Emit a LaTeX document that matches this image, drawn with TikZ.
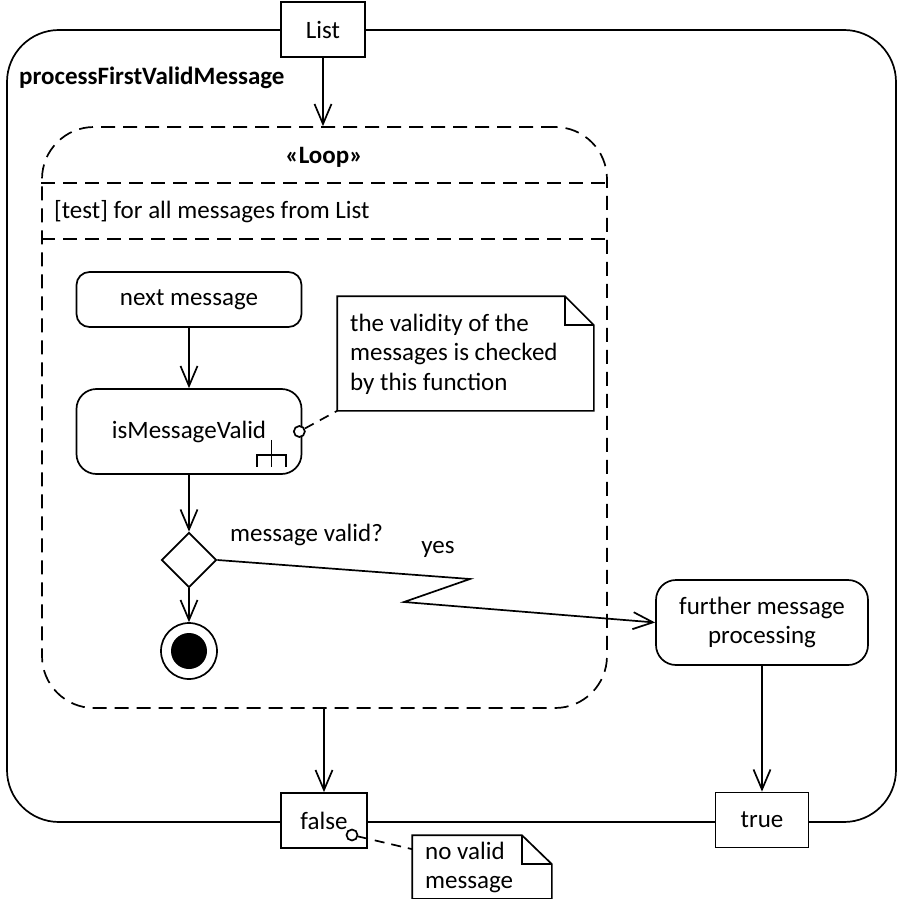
\documentclass[tikz,border=0pt]{standalone}
\usepackage{fontspec}
\setmainfont{Carlito}
\usetikzlibrary{arrows.meta,shapes.geometric,calc}
\newcommand\dfont{\fontsize{25}{29.5}\selectfont}
\begin{document}
\begin{tikzpicture}[x=1pt,y=-1pt,
  line width=1.7pt,
  every node/.style={font=\dfont},
  flow/.style={-{Straight Barb[length=20pt,width=17pt,line width=1.7pt]}},
  pinbox/.style={draw,fill=white,minimum height=55pt,inner sep=0pt},
  action/.style={draw,fill=white,rounded corners=#1,inner sep=0pt},
  loopdash/.style={dash pattern=on 14pt off 8pt},
  notedash/.style={dash pattern=on 10pt off 7pt},
  pinball/.style={circle,draw,fill=white,inner sep=0pt,minimum size=11pt},
  frame/.style={inner sep=0pt}
]
\useasboundingbox (0,0) rectangle (900,899);

% activity frame
\node[draw,rounded corners=52pt,minimum width=889pt,minimum height=792pt] (act) at (451.5,426) {};
\node[font=\dfont\bfseries,anchor=west] (title) at (15,78) {processFirstValidMessage};

% input parameter
\node[pinbox,minimum width=84pt] (list) at (323,29.5) {List};

% loop region
\node[draw,loopdash,rounded corners=52pt,minimum width=565pt,minimum height=581pt] (loop) at (324.5,417.5) {};
\coordinate (sep1) at (0,183);
\coordinate (sep2) at (0,239);
\draw[loopdash] (loop.west |- sep1) -- (loop.east |- sep1);
\draw[loopdash] (loop.west |- sep2) -- (loop.east |- sep2);
\node[font=\dfont\bfseries] (kind) at (324,157) {«Loop»};
\node[anchor=west] (test) at (50,212) {[test] for all messages from List};

% actions
\node[action=13pt,minimum width=225pt,minimum height=55pt] (next) at (189,299.5) {next message};
\node[action=20pt,minimum width=225pt,minimum height=85pt] (valid) at (189,431.5) {isMessageValid};
\draw ($(valid.south east)+(-31,-35)$) -- ++(0,27)
      ($(valid.south east)+(-45.5,-8)$) -- ++(0,-12) -- ++(29,0) -- ++(0,12);
\node[pinball] (cp1) at ($(valid.east)+(-3,0)$) {};

% comment on isMessageValid
\node[frame,minimum width=255pt,minimum height=113pt] (note1) at (465.5,353.5) {};
\draw[fill=white] (note1.north west) -- ($(note1.north east)+(-29,0)$) -- ($(note1.north east)+(0,29)$)
  -- (note1.south east) -- (note1.south west) -- cycle;
\draw ($(note1.north east)+(-29,0)$) -- ($(note1.north east)+(-29,29)$) -- ($(note1.north east)+(0,29)$);
\node[anchor=west,align=left] (note1text) at (346,354) {the validity of the\\messages is checked\\by this function};
\draw[notedash] (cp1) -- (note1.south west);

% decision and final node
\node[diamond,draw,minimum size=55pt,inner sep=0pt] (dec) at (189,560) {};
\node[anchor=west] (guard) at (226,535) {message valid?};
\node (yes) at (438,549) {yes};
\node[circle,draw,minimum size=56pt,inner sep=0pt] (final) at (189,651) {};
\node[circle,fill,minimum size=36pt,inner sep=0pt] (finaldot) at (final) {};

\node[action=20pt,minimum width=212pt,minimum height=85pt,align=center] (further) at (762,622.5) {further message\\processing};

% output parameters
\node[pinbox,minimum width=86pt] (false) at (324,820.5) {false};
\node[pinbox,minimum width=93pt] (true) at (762,820) {true};
\node[pinball] (cp2) at (352,835) {};

% comment on false
\node[frame,minimum width=138pt,minimum height=62pt] (note2) at (482,867) {};
\draw[fill=white] (note2.north west) -- ($(note2.north east)+(-30,0)$) -- ($(note2.north east)+(0,29)$)
  -- (note2.south east) -- (note2.south west) -- cycle;
\draw ($(note2.north east)+(-30,0)$) -- ($(note2.north east)+(-30,29)$) -- ($(note2.north east)+(0,29)$);
\node[anchor=west,align=left] (note2text) at (421,867.5) {no valid\\message};
\draw[notedash] (cp2) -- ($(note2.north west)+(0,14)$);

% control flows
\coordinate (z1) at (470,579);
\coordinate (z2) at (404,602);
\draw[flow] (list.south) -- (list.south |- loop.north);
\draw[flow] (next) -- (valid);
\draw[flow] (valid) -- (dec);
\draw[flow] (dec) -- (final);
\draw[flow] (dec.east) -- (z1) -- (z2) -- (further.west);
\draw[flow] (further) -- (true);
\draw[flow] (loop.south -| false) -- (false);
\end{tikzpicture}
\end{document}
